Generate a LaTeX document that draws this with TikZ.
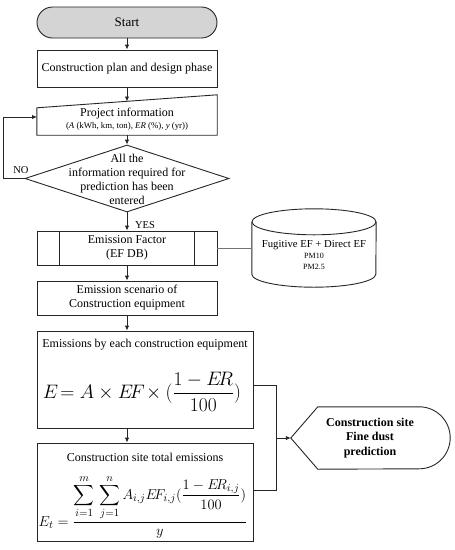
\documentclass[tikz,border=0pt]{standalone}
\usepackage{amsmath}
\usepackage{graphicx}
\usepackage{fontspec}
\setmainfont{Liberation Serif}
\usetikzlibrary{shapes.misc,shapes.geometric,arrows.meta}
\tikzset{
  ln/.style={draw=black!85, line width=0.9pt},
  arr/.style={ln, -{Latex[length=5pt,width=4.5pt]}},
  boxnode/.style={ln, rectangle, inner sep=0pt, align=center},
  ghost/.style={rectangle, inner sep=0pt},
  txt/.style={align=center, inner sep=0pt, font=\fontsize{12}{14}\selectfont},
}
\begin{document}
\begin{tikzpicture}[x=1pt,y=-1pt]
\useasboundingbox (0,0) rectangle (455,550);
% Start
\node[ln, rounded rectangle, fill=black!17, minimum width=180pt, minimum height=31pt, inner sep=0pt, font=\fontsize{13}{15}\selectfont] (start) at (127,22.5) {Start};
% plan
\node[boxnode, minimum width=180pt, minimum height=37pt, font=\fontsize{12}{14}\selectfont] (plan) at (127,68.5) {Construction plan and design phase};
% project info (manual input)
\node[ghost, minimum width=180pt, minimum height=40pt] (proj) at (127,115) {};
\draw[ln] (proj.south west) -- (proj.south east) -- (proj.north east) -- ([yshift=-13pt]proj.north west) -- cycle;
\node[txt] (projtxt) at (127,119) {Project information\\[-2pt]{\fontsize{8.8}{10}\selectfont(\textit{A} (kWh, km, ton), \textit{ER} (\%), \textit{y} (yr))}};
\coordinate (projtop) at (127,101.5);
\coordinate (projleft) at (37,117);
% decision
\node[ln, diamond, minimum width=204pt, minimum height=67pt, inner sep=0pt, aspect=3] (dia) at (127,178.5) {};
\node[txt] (diatxt) at (127,179) {All the\\information required for\\prediction has been\\entered};
\node[inner sep=0pt, font=\fontsize{10.5}{12}\selectfont] (no) at (21,170) {NO};
\node[inner sep=0pt, font=\fontsize{10.5}{12}\selectfont] (yes) at (145,225) {YES};
% emission factor (predefined process)
\node[boxnode, minimum width=180pt, minimum height=34pt, font=\fontsize{12}{14}\selectfont] (ef) at (127,248) {Emission Factor\\(EF DB)};
\draw[ln] ([xshift=23pt]ef.north west) -- ([xshift=23pt]ef.south west);
\draw[ln] ([xshift=-23pt]ef.north east) -- ([xshift=-23pt]ef.south east);
% database cylinder
\node[ghost, minimum width=124pt, minimum height=78pt] (db) at (314,248) {};
\draw[ln] ([yshift=-13pt]db.north west) -- ([yshift=13pt]db.south west)
  arc[start angle=180, end angle=360, x radius=62pt, y radius=13pt]
  -- ([yshift=-13pt]db.north east);
\draw[ln] ([yshift=-13pt]db.north) ellipse[x radius=62pt, y radius=13pt];
\node[align=center, inner sep=0pt, font=\fontsize{10.7}{12}\selectfont] (dbtxt) at (314,255) {Fugitive EF + Direct EF\\[-1pt]{\fontsize{8}{10}\selectfont PM10}\\[-1pt]{\fontsize{8}{10}\selectfont PM2.5}};
\draw[draw=black!55, line width=0.8pt] (ef.east) -- (db.west);
% scenario
\node[boxnode, minimum width=180pt, minimum height=34pt, font=\fontsize{12}{14}\selectfont] (scen) at (127,298) {Emission scenario of\\Construction equipment};
% emissions box 1
\node[boxnode, minimum width=216pt, minimum height=97pt] (em1) at (145,379.5) {};
\node[txt] (em1t) at (145,345) {Emissions by each construction equipment};
\node[inner sep=0pt, font=\fontsize{20.74}{24}\selectfont] (em1f) at (142,392) {\scalebox{0.94}{$E\!= A\times E\!F\!\times(\dfrac{1-E\!R}{100})$}};
% emissions box 2
\node[boxnode, minimum width=216pt, minimum height=98pt] (em2) at (145,492) {};
\node[txt] (em2t) at (145,457) {Construction site total emissions};
\node[inner sep=0pt, font=\fontsize{15}{18}\selectfont] (em2f) at (143,507) {$E_t=\dfrac{\displaystyle\sum_{i=1}^{m}\,\sum_{j=1}^{n}A_{i,j}E\!F_{i,j}(\dfrac{1-E\!R_{i,j}}{100})}{y}$};
% display
\node[ghost, minimum width=159pt, minimum height=62pt] (disp) at (370.5,438) {};
\draw[ln] (disp.west) -- ([xshift=27pt]disp.north west) -- ([xshift=-31pt]disp.north east)
  arc[start angle=90, end angle=-90, radius=31pt] -- ([xshift=27pt]disp.south west) -- cycle;
\node[align=center, inner sep=0pt, font=\bfseries\fontsize{12}{14.5}\selectfont] (disptxt) at (370,438) {Construction site\\Fine dust\\prediction};
% connectors
\draw[arr] (start.south) -- (plan.north);
\draw[arr] (plan.south) -- (projtop);
\draw[arr] (proj.south) -- (dia.north);
\draw[arr] (dia.west) -- ++(-21,0) |- (projleft);
\draw[arr] (dia.south) -- (ef.north);
\draw[arr] (ef.south) -- (scen.north);
\draw[arr] (scen.south) -- (scen.south |- em1.north);
\draw[arr] (scen.south |- em1.south) -- (scen.south |- em2.north);
\coordinate (join) at (276,438);
\draw[ln] ([yshift=-5.5pt]em1.east) -| (join);
\draw[ln] ([yshift=2pt]em2.east) -| (join);
\draw[arr] (join) -- (disp.west);
\end{tikzpicture}
\end{document}
